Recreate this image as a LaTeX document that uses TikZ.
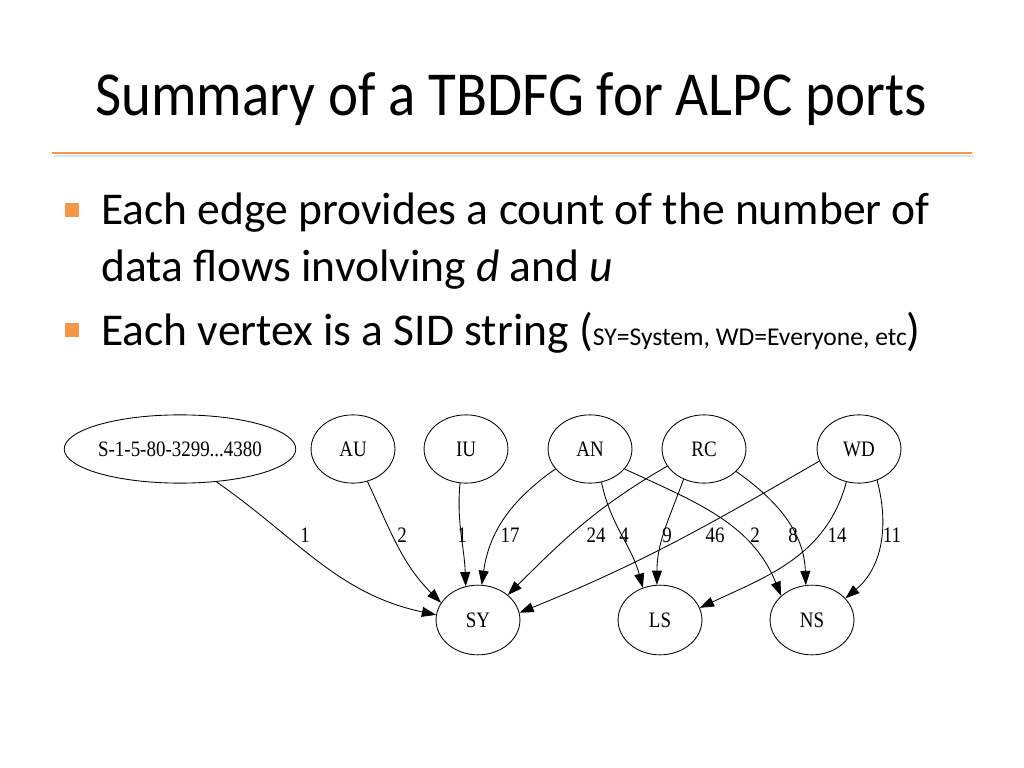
\documentclass[tikz,border=0pt]{standalone}
\usepackage{fontspec}
\setmainfont{Carlito}
\newfontfamily\titlefont[FakeStretch=0.91]{Carlito}
\newfontfamily\dotfont[FakeStretch=0.86]{Liberation Serif}
\usepackage{tikz}
\usetikzlibrary{arrows.meta,shapes.geometric}
\usepackage{xcolor}
\definecolor{slideorange}{RGB}{247,150,70}
\definecolor{slideshade}{RGB}{225,225,230}
\tikzstyle{flow} = [-{Triangle[length=10pt,width=7pt]}, line width=0.6pt]
\tikzstyle{bulletbox} = [rectangle, fill=slideorange, minimum size=9.8pt, inner sep=0pt]

\begin{document}
\begin{tikzpicture}[x=0.703125pt, y=0.703125pt,
    vertex/.style={ellipse, draw, line width=0.6pt, minimum width=59pt, minimum height=48pt, inner sep=0pt, font=\dotfont\fontsize{15.5}{18}\selectfont},
    count/.style={inner sep=0pt, font=\dotfont\fontsize{15.5}{18}\selectfont},
    line/.style={anchor=base west, inner sep=0pt, font=\fontsize{32}{38}\selectfont}]

\useasboundingbox[fill=white] (0,0) rectangle (1024,-768);

% Title and rule
\node[anchor=base, inner sep=0pt, font=\titlefont\fontsize{44}{52}\selectfont] (title) at (511,-116) {Summary of a TBDFG for ALPC ports};
\draw[slideshade, line width=1.5pt] (54,-156) -- (974,-156);
\draw[slideorange, line width=2pt] (52,-153) -- (972,-153);

% Bullets
\node[bulletbox] (b1) at (72,-210) {};
\node[line] (t1) at (101,-225) {Each edge provides a count of the number of};
\node[line] (t2) at (101,-281) {data flows involving \textit{d} and \textit{u}};
\node[bulletbox] (b2) at (72,-330) {};
\node[line] (t3) at (101,-345) {Each vertex is a SID string ({\fontsize{18}{22}\selectfont SY=System, WD=Everyone, etc})};

% Sources
\node[vertex, minimum width=144pt] (sid) at (180,-449) {S-1-5-80-3299...4380};
\node[vertex] (au) at (353,-449) {AU};
\node[vertex] (iu) at (466,-449) {IU};
\node[vertex] (an) at (590,-449) {AN};
\node[vertex] (rc) at (704,-449) {RC};
\node[vertex] (wd) at (859,-449) {WD};

% Targets
\node[vertex, minimum height=49pt] (sy) at (478,-620) {SY};
\node[vertex, minimum height=49pt] (ls) at (660,-620) {LS};
\node[vertex, minimum height=49pt] (ns) at (812,-620) {NS};

% Flows
\draw[flow] (sid.-42) to[out=-35,in=168] (sy.173);
\draw[flow] (au.-66) to[out=-65,in=135] (sy.155);
\draw[flow] (iu.-100) to[out=-95,in=92] (sy.110);
\draw[flow] (an.-150) to[out=-145,in=82] (sy.84);
\draw[flow] (rc.-155) to[out=-150,in=45] (sy.40);
\draw[flow] (wd.-163) to[out=-150,in=22] (sy.10);
\draw[flow] (an.-71) to[out=-78,in=105] (ls.118);
\draw[flow] (rc.-124) to[out=-110,in=90] (ls.95);
\draw[flow] (wd.-111) to[out=-105,in=25] (ls.17);
\draw[flow] (an.-30) to[out=-25,in=112] (ns.142);
\draw[flow] (rc.-35) to[out=-35,in=92] (ns.100);
\draw[flow] (wd.-60) to[out=-75,in=40] (ns.33);

% Counts
\node[count] (c1) at (305,-535) {1};
\node[count] (c2) at (402,-535) {2};
\node[count] (c3) at (462,-535) {1};
\node[count] (c4) at (510,-535) {17};
\node[count] (c5) at (596,-535) {24};
\node[count] (c6) at (624,-535) {4};
\node[count] (c7) at (667,-535) {9};
\node[count] (c8) at (715,-535) {46};
\node[count] (c9) at (755,-535) {2};
\node[count] (c10) at (793,-535) {8};
\node[count] (c11) at (837,-535) {14};
\node[count] (c12) at (892,-535) {11};
\end{tikzpicture}
\end{document}
